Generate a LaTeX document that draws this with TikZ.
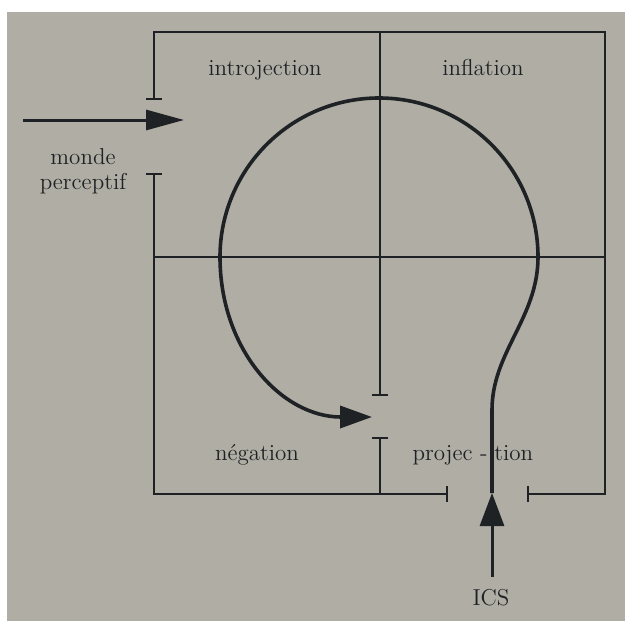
\documentclass[tikz,border=0pt]{standalone}
\usetikzlibrary{arrows.meta}
\definecolor{paper}{RGB}{176,173,164}
\definecolor{ink}{RGB}{30,34,37}
\begin{document}
\begin{tikzpicture}[x=0.5pt,y=-0.5pt,
  frame/.style={draw=ink,line width=1.3pt},
  inner/.style={draw=ink,line width=0.9pt},
  thick curve/.style={draw=ink,line width=1.8pt},
  lbl/.style={text=ink,inner sep=0pt,font=\fontsize{11.5}{12.5}\selectfont},
  barend/.style={-{Bar[width=8pt,line width=1pt]}},
  barstart/.style={{Bar[width=8pt,line width=1pt]}-},
  barboth/.style={{Bar[width=8pt,line width=1pt]}-{Bar[width=8pt,line width=1pt]}}]
\useasboundingbox (0,0) rectangle (625,621);
\fill[white] (0,0) rectangle (625,621);
\fill[paper] (7,12) rectangle (625,621);
% coordinates
\coordinate (TLtick) at (154,100);
\coordinate (TL) at (154,32);
\coordinate (TR) at (605,32);
\coordinate (BR) at (605,494);
\coordinate (BRtick) at (527,494);
\coordinate (LLtick) at (154,173);
\coordinate (BL) at (154,494);
\coordinate (BMtick) at (448,494);
\coordinate (MT) at (380,32);
\coordinate (MUtick) at (380,396);
\coordinate (MLtick) at (380,437);
\coordinate (MB) at (380,494);
\coordinate (HL) at (154,257);
\coordinate (HR) at (605,257);
\coordinate (CL) at (220,257);
\coordinate (NegTip) at (372,417);
\coordinate (ProjBend) at (492,410);
\coordinate (ProjTip) at (492,493);
\coordinate (InStart) at (23,120);
\coordinate (InTip) at (184,120);
% frame
\draw[frame,barboth] (TLtick) -- (TL) -- (TR) -- (BR) -- (BRtick);
\draw[frame,barboth] (LLtick) -- (BL) -- (BMtick);
% inner cross
\draw[inner] (HL) -- (HR);
\draw[inner,barend] (MT) -- (MUtick);
\draw[inner,barstart] (MLtick) -- (MB);
% open circle and curves
\draw[thick curve] (CL) arc[start angle=180,end angle=360,radius=159] coordinate (CR)
  .. controls (538,318) and (492,352) .. (ProjBend) -- (ProjTip);
\draw[thick curve,-{Triangle[length=16pt,width=11pt]}] (CL) .. controls (220,350) and (282,417) .. (NegTip);
% labels
\node[lbl,anchor=base] (ics) at (491,605) {ICS};
\coordinate (IcsStart) at (492,577);
\draw[ink,line width=1.5pt,-{Triangle[length=16.5pt,width=12pt]}] (IcsStart) -- (ProjTip);
\draw[ink,line width=1.5pt,-{Triangle[length=19pt,width=10pt]}] (InStart) -- (InTip);
\node[lbl,anchor=base] (intro) at (265,75) {introjection};
\node[lbl,anchor=base] (infl) at (483,75) {inflation};
\node[lbl,anchor=base] (neg) at (257,460) {négation};
\node[lbl,anchor=base east] (proj1) at (488,460) {projec -};
\node[lbl,anchor=base west] (proj2) at (494,460) {tion};
\node[lbl,align=center] (monde) at (83,171) {monde\\perceptif};
\end{tikzpicture}
\end{document}
